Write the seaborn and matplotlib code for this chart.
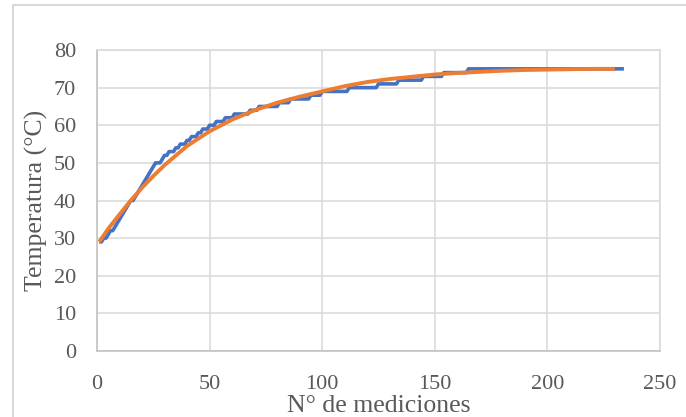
import numpy as np
import pandas as pd
import matplotlib
matplotlib.use('Agg')
import matplotlib.pyplot as plt
import seaborn as sns
from matplotlib.patches import Rectangle

# measured temperature: level and first measurement where it is reached
temp_levels = [29, 30, 31, 32, 33, 34, 35, 36, 37, 38, 39, 40, 41, 42, 43, 44,
               45, 46, 47, 48, 49, 50, 51, 52, 53, 54, 55, 56, 57, 58, 59, 60,
               61, 62, 63, 64, 65, 66, 67, 68, 69, 70, 71, 72, 73, 74, 75]
first_index = [1, 3, 5, 6, 8, 9, 10, 11, 12, 13, 14, 15, 17, 18, 19, 20,
               21, 22, 23, 24, 25, 26, 29, 30, 32, 35, 37, 40, 42, 45, 47, 50,
               53, 57, 61, 68, 72, 81, 86, 95, 100, 112, 125, 134, 145, 154, 165]
last_index = 234

# fitted curve
fit_x = [1, 5, 10, 15, 20, 25, 30, 40, 50, 60, 70, 80, 90, 100, 110, 120,
         130, 140, 150, 160, 170, 180, 190, 200, 210, 220, 230]
fit_y = [29.0, 32.5, 36.3, 40.0, 43.4, 46.5, 49.4, 54.5, 58.4, 61.5, 64.0,
         66.0, 67.6, 69.0, 70.4, 71.5, 72.3, 72.9, 73.5, 73.9, 74.2, 74.5,
         74.7, 74.8, 74.9, 75.0, 75.0]

x_ticks = [0, 50, 100, 150, 200, 250]
y_ticks = [0, 10, 20, 30, 40, 50, 60, 70, 80]

# one row per measurement
counts = np.diff(first_index + [last_index + 1])
meas = pd.DataFrame({'n': np.arange(1, last_index + 1),
                     'temp': np.repeat(temp_levels, counts)})
fit = pd.DataFrame({'n': fit_x, 'temp': fit_y})

sns.set_style('white')
plt.rcParams['font.family'] = ['Liberation Serif', 'DejaVu Serif']

fig = plt.figure(figsize=(6.86, 4.17), dpi=100)
ax = fig.add_axes([0.1414, 0.1583, 0.8206, 0.7217])

sns.lineplot(data=meas, x='n', y='temp', ax=ax, color='#4472C4', lw=2.6,
             solid_capstyle='butt', zorder=3)
sns.lineplot(data=fit, x='n', y='temp', ax=ax, color='#ED7D31', lw=2.8,
             solid_capstyle='butt', zorder=4)

ax.set_xlim(0, 250)
ax.set_ylim(0, 80)
ax.set_xticks(x_ticks)
ax.set_yticks(y_ticks)
ax.grid(True, color='#d9d9d9', lw=1.1)
ax.set_axisbelow(True)
for s in ax.spines.values():
    s.set_color('#d9d9d9')
    s.set_linewidth(1.1)
ax.spines['left'].set_color('#bfbfbf')
ax.spines['bottom'].set_color('#bfbfbf')
ax.tick_params(axis='both', length=0, labelsize=16, colors='#595959')
ax.tick_params(axis='x', pad=17)
ax.tick_params(axis='y', pad=15)
ax.set_xlabel('N° de mediciones', fontsize=18.5, color='#595959', labelpad=1)
ax.set_ylabel('Temperatura (°C)', fontsize=18.5, color='#595959', labelpad=4)

# chart area border
fig.add_artist(Rectangle((13 / 686, -0.1), 1.0, 1.1 - 5 / 417,
                         transform=fig.transFigure, fill=False,
                         edgecolor='#d9d9d9', lw=1.5))

fig.savefig('out.png', dpi=100)
